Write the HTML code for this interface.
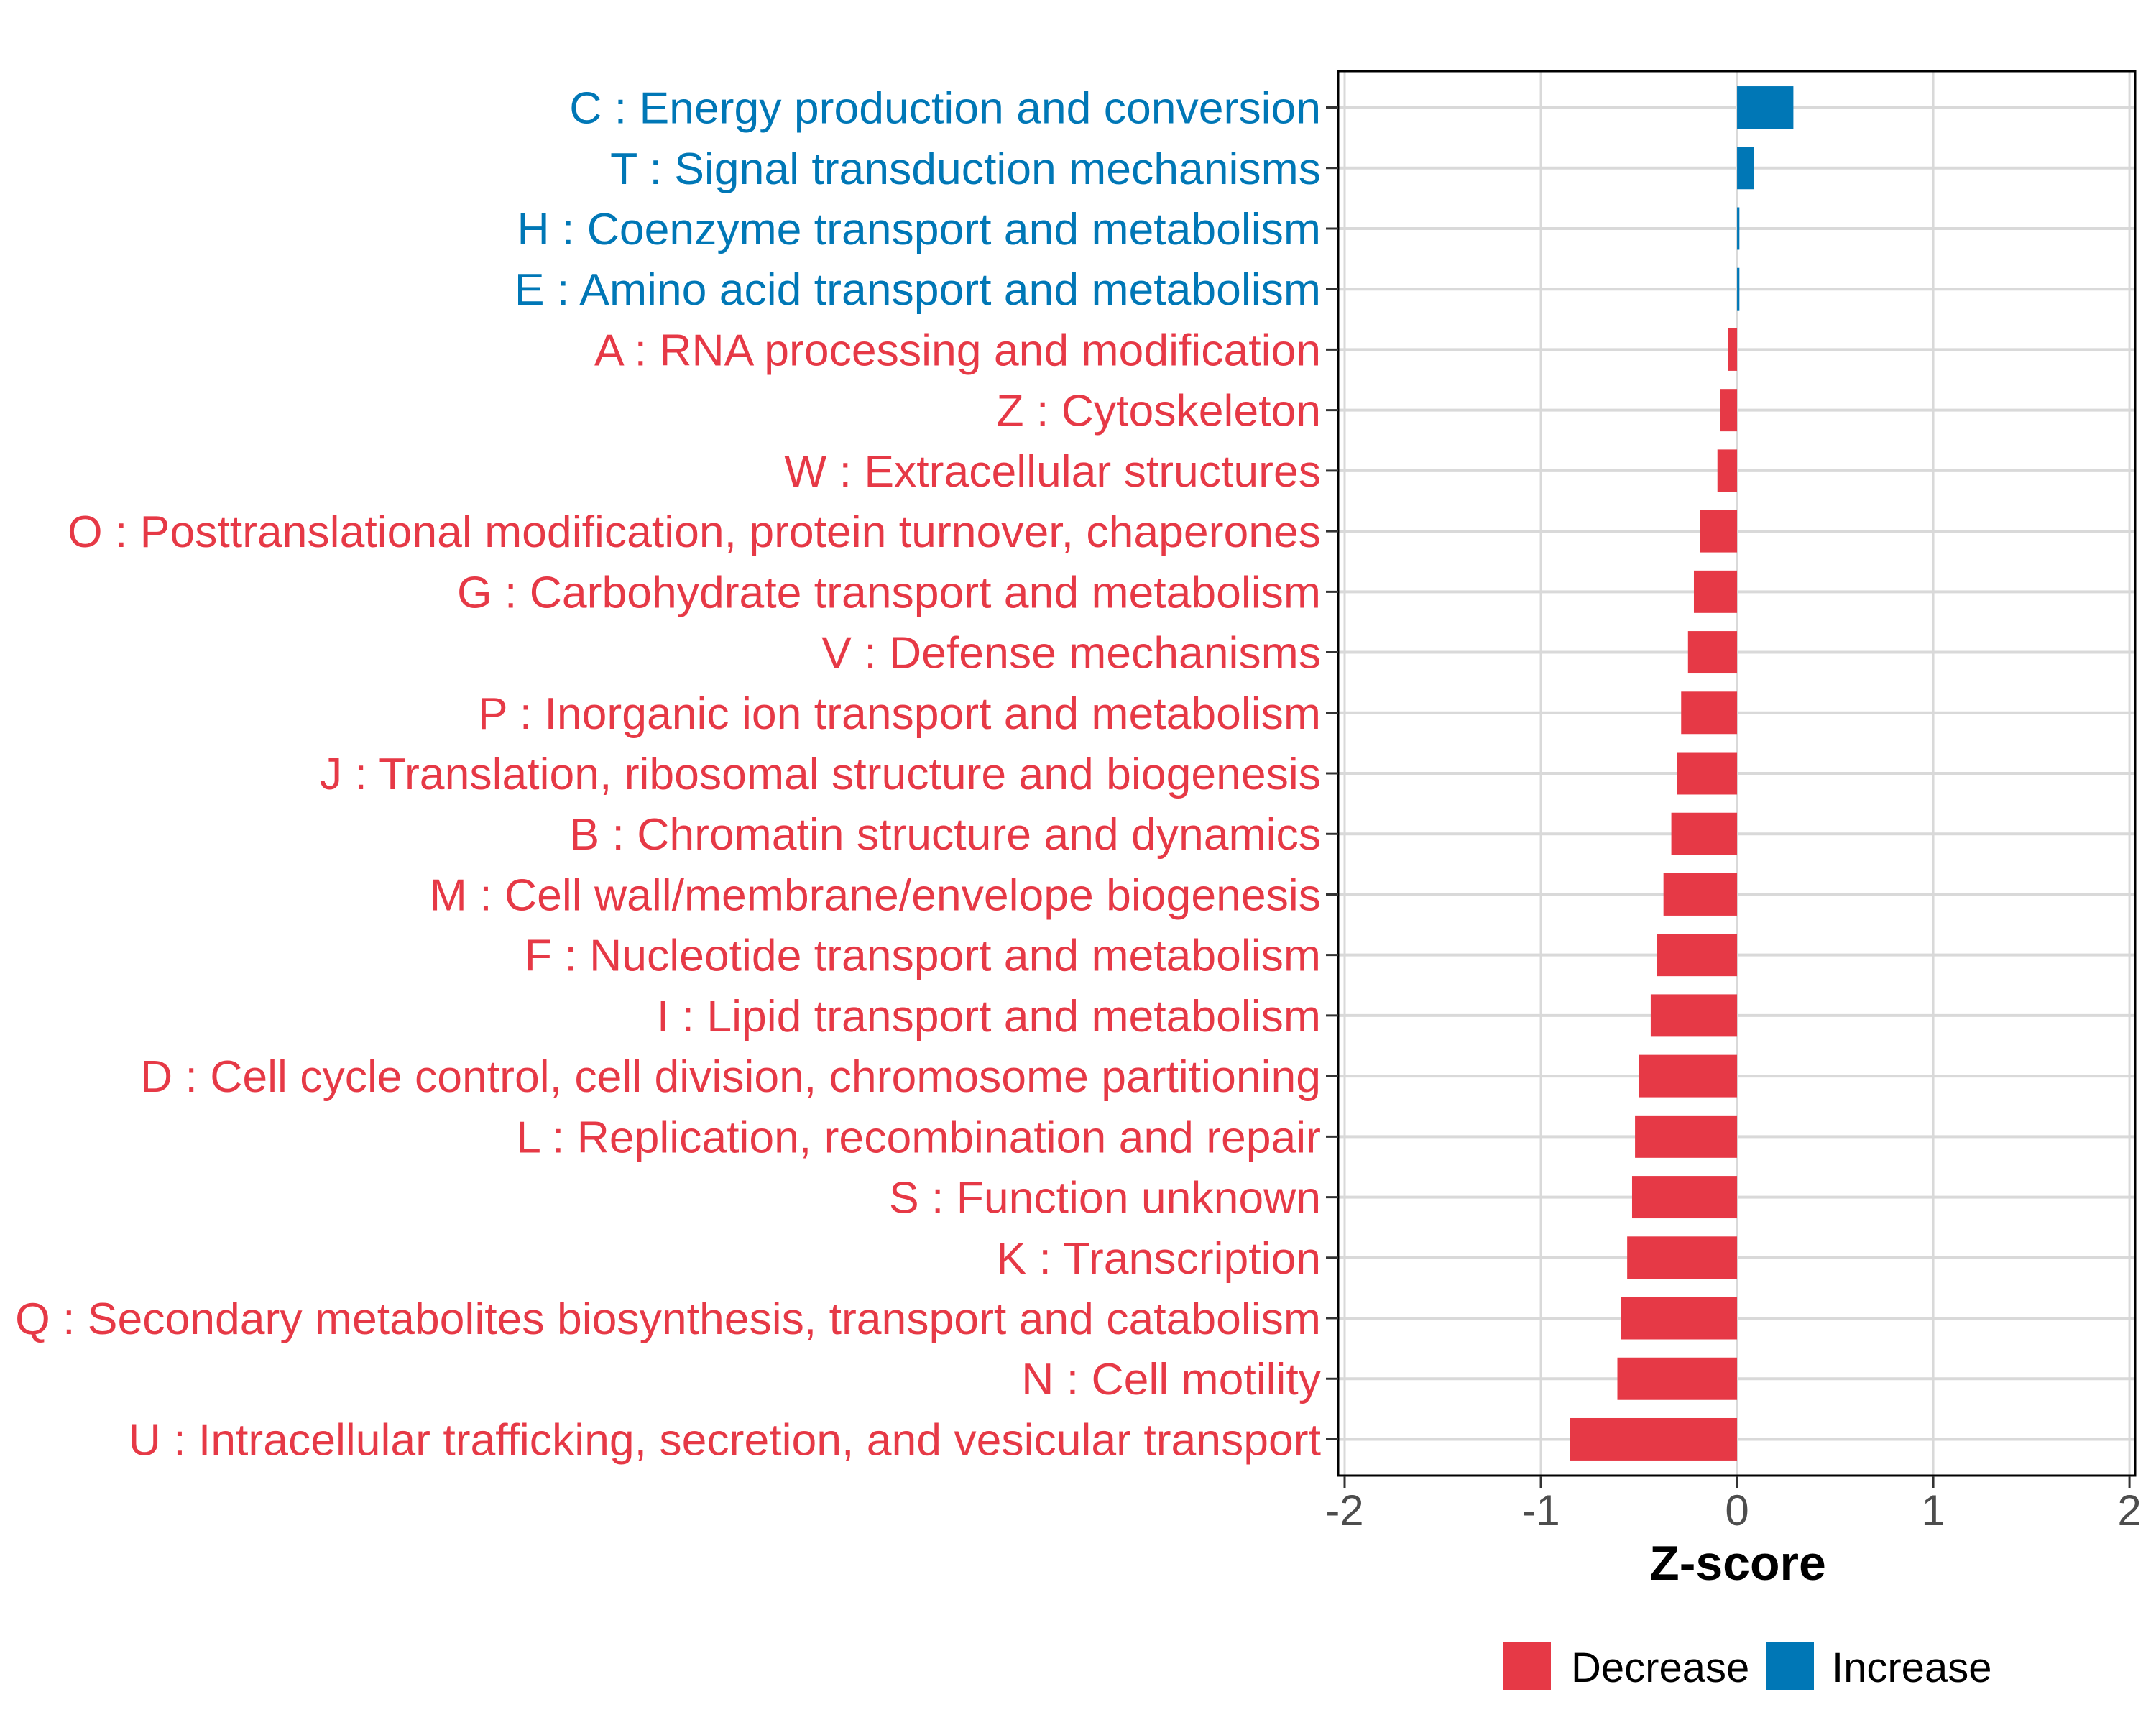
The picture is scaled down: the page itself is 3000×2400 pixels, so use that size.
<!DOCTYPE html>
<html><head><meta charset="utf-8"><style>
html,body{margin:0;padding:0;background:#fff}
svg{display:block;font-family:"Liberation Sans",Arial,sans-serif}
</style></head><body>
<svg id="chart" width="3000" height="2400" viewBox="0 0 3000 2400" xmlns="http://www.w3.org/2000/svg">
<rect width="3000" height="2400" fill="#fff"/>
<g id="grid"></g>
<g id="bars"></g>
<rect x="1862" y="99" width="1109" height="1954" fill="none" stroke="#000" stroke-width="3"/>
<g id="ylabels"></g>
<g id="xaxis"></g>
<text x="2418" y="2198" text-anchor="middle" font-size="68" font-weight="bold" fill="#000">Z-score</text>
<g>
<rect x="2092" y="2285" width="66" height="66" fill="#E63946"/>
<text x="2186" y="2340" font-size="58" fill="#000">Decrease</text>
<rect x="2458" y="2285" width="66" height="66" fill="#0077B6"/>
<text x="2549" y="2340" font-size="58" fill="#000">Increase</text>
</g>
</svg>
<script>
const categories = ["C : Energy production and conversion","T : Signal transduction mechanisms","H : Coenzyme transport and metabolism","E : Amino acid transport and metabolism","A : RNA processing and modification","Z : Cytoskeleton","W : Extracellular structures","O : Posttranslational modification, protein turnover, chaperones","G : Carbohydrate transport and metabolism","V : Defense mechanisms","P : Inorganic ion transport and metabolism","J : Translation, ribosomal structure and biogenesis","B : Chromatin structure and dynamics","M : Cell wall/membrane/envelope biogenesis","F : Nucleotide transport and metabolism","I : Lipid transport and metabolism","D : Cell cycle control, cell division, chromosome partitioning","L : Replication, recombination and repair","S : Function unknown","K : Transcription","Q : Secondary metabolites biosynthesis, transport and catabolism","N : Cell motility","U : Intracellular trafficking, secretion, and vesicular transport"];
const zscores = [0.287,0.085,0.012,0.012,-0.045,-0.085,-0.10,-0.19,-0.22,-0.25,-0.285,-0.305,-0.335,-0.375,-0.41,-0.44,-0.5,-0.52,-0.535,-0.56,-0.59,-0.61,-0.85];
const xTicks = [-2,-1,0,1,2];
const xTickLabels = ["-2","-1","0","1","2"];
const NS="http://www.w3.org/2000/svg";
const L=1862,R=2971,T=99,B=2053;
const xMin=-2.033,xMax=2.029;
function xs(v){return L+(v-xMin)/(xMax-xMin)*(R-L);}
const n=categories.length;
const band=(B-T)/(n-1+1.2);
function ys(i){return T+0.6*band+i*band;}
function mk(tag,attrs,parent){const e=document.createElementNS(NS,tag);for(const k in attrs)e.setAttribute(k,attrs[k]);parent.appendChild(e);return e;}
const grid=document.getElementById('grid'),bars=document.getElementById('bars'),yl=document.getElementById('ylabels'),xa=document.getElementById('xaxis');
xTicks.forEach((t,i)=>{
  const g=mk('line',{x1:xs(t),x2:xs(t),y1:T,y2:B,stroke:'#d9d9d9','stroke-width':3},grid);
  
  
  const tk=mk('line',{x1:xs(t),x2:xs(t),y1:B,y2:B+17,stroke:'#333','stroke-width':3},xa);
  
  
  const tl=mk('text',{x:xs(t),y:2122,'text-anchor':'middle','font-size':60,fill:'#4d4d4d'},xa);
  tl.textContent=xTickLabels[i];
  
  
});
categories.forEach((c,i)=>{
  const y=ys(i),v=zscores[i];
  const gl=mk('line',{x1:L,x2:R,y1:y,y2:y,stroke:'#d9d9d9','stroke-width':4},grid);
  
  
  const col=v>=0?'#0077B6':'#E63946';
  const x0=xs(0),x1=xs(v);
  const bh=band*0.7;
  const r=mk('rect',{x:Math.min(x0,x1),y:y-bh/2,width:Math.max(Math.abs(x1-x0),2),height:bh,fill:col},bars);
  
  
  const tk=mk('line',{x1:L-17,x2:L,y1:y,y2:y,stroke:'#333','stroke-width':3},yl);
  
  
  const t=mk('text',{x:1838,y:y+22,'text-anchor':'end','font-size':62.5,fill:col},yl);
  t.textContent=c;
  
  
});
</script>
</body></html>
